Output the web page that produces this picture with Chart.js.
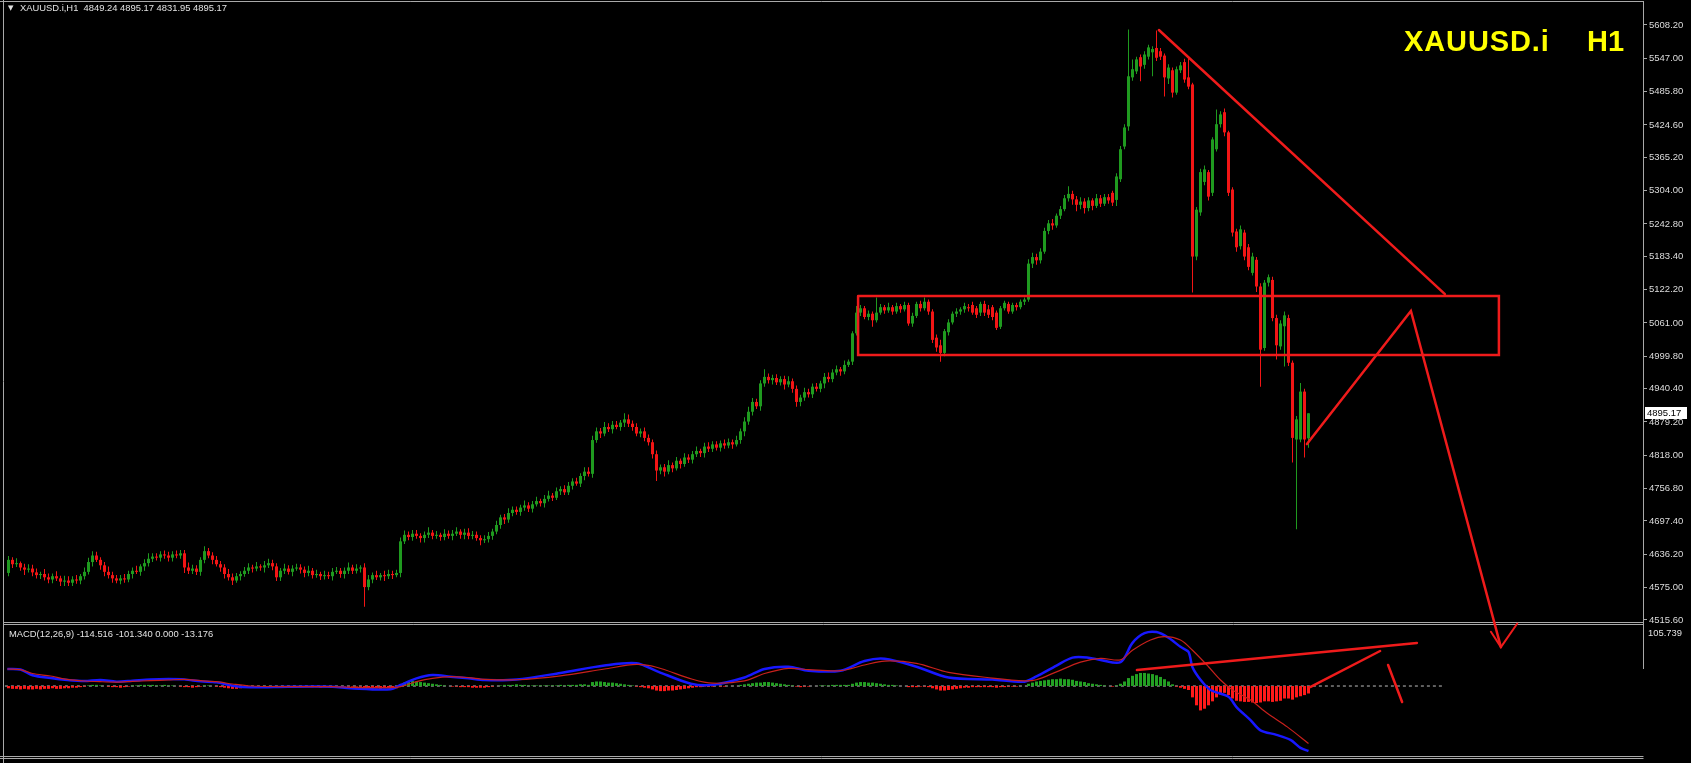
<!DOCTYPE html>
<html>
<head>
<meta charset="utf-8">
<title>XAUUSD.i H1</title>
<script src="https://cdn.jsdelivr.net/npm/chart.js@4.4.1/dist/chart.umd.min.js"></script>
<style>
  html, body { margin: 0; padding: 0; background: #000; overflow: hidden; }
  #wrap { position: relative; width: 1691px; height: 763px; background: #000; }
  canvas { position: absolute; left: 0; top: 0; width: 1691px; height: 763px; }
  #macdCanvas { z-index: 1; }
  #priceCanvas { z-index: 2; }
  .lbl { position: absolute; z-index: 3; font-family: "Liberation Sans", Arial, sans-serif; font-size: 9.4px; line-height: 10px; color: #e2e2e2; white-space: pre; }
  .big { position: absolute; z-index: 3; font-family: "Liberation Sans", Arial, sans-serif; font-weight: bold; font-size: 29px; line-height: 29px; color: #ffff00; white-space: pre; }
</style>
</head>
<body>
<div id="wrap">
  <canvas id="macdCanvas" width="1691" height="763"></canvas>
  <canvas id="priceCanvas" width="1691" height="763"></canvas>
  <div class="lbl" style="left:8px; top:3px; font-family:'DejaVu Sans'; font-size:7px;">▼</div>
  <div class="lbl" style="left:20px; top:3px;">XAUUSD.i,H1  4849.24 4895.17 4831.95 4895.17</div>
  <div class="big" style="left:1404px; top:27px; letter-spacing:0.9px;">XAUUSD.i</div>
  <div class="big" style="left:1587px; top:27px;">H1</div>
  <div class="lbl" style="left:9px; top:629px;">MACD(12,26,9) -114.516 -101.340 0.000 -13.176</div>
  <div class="lbl" style="left:1648px; top:628px;">105.739</div>
</div>
<script>
// hourly candles, index 0 = leftmost bar
const opens = [
  4602,4626,4618,4620,4612,4608,4610,4603,4598,4600,
  4594,4590,4596,4592,4586,4588,4584,4590,4588,4596,
  4604,4622,4634,4626,4616,4604,4598,4592,4588,4592,
  4590,4600,4606,4604,4614,4620,4628,4632,4630,4636,
  4634,4630,4636,4634,4638,4612,4606,4610,4604,4626,
  4642,4634,4626,4618,4612,4600,4594,4588,4596,4600,
  4606,4612,4610,4614,4612,4616,4620,4614,4594,4606,
  4610,4604,4610,4612,4608,4602,4606,4598,4600,4596,
  4598,4596,4604,4606,4600,4606,4612,4606,4610,4612,
  4576,4590,4598,4594,4598,4596,4600,4598,4602,4660,
  4672,4668,4674,4670,4666,4672,4676,4670,4672,4668,
  4674,4670,4674,4678,4672,4676,4670,4672,4666,4662,
  4664,4670,4678,4690,4704,4700,4712,4718,4714,4722,
  4726,4720,4728,4734,4730,4738,4744,4740,4752,4756,
  4750,4762,4770,4766,4780,4788,4784,4846,4862,4858,
  4870,4866,4874,4870,4878,4884,4876,4870,4858,4862,
  4850,4842,4820,4790,4796,4788,4800,4794,4808,4802,
  4814,4810,4820,4826,4822,4834,4830,4838,4832,4840,
  4836,4842,4838,4846,4862,4880,4898,4916,4908,4950,
  4962,4956,4960,4952,4958,4948,4954,4940,4916,4924,
  4934,4930,4944,4940,4950,4962,4958,4970,4976,4972,
  4984,4990,5042,5080,5088,5072,5078,5066,5080,5090,
  5084,5090,5082,5092,5086,5094,5060,5074,5096,5088,
  5100,5082,5034,5020,5006,5044,5062,5078,5082,5086,
  5090,5094,5088,5080,5096,5086,5090,5080,5054,5088,
  5096,5082,5094,5090,5100,5104,5170,5182,5176,5192,
  5230,5244,5240,5258,5270,5290,5298,5288,5278,5284,
  5272,5286,5276,5290,5280,5292,5300,5287,5325,5385,
  5422,5512,5523,5549,5535,5550,5558,5566,5560,5552,
  5510,5525,5484,5525,5540,5512,5499,5183,5264,5320,
  5338,5300,5380,5426,5448,5411,5306,5229,5202,5227,
  5200,5153,5177,5128,5015,5135,5140,5070,5018,5055,
  5070,4988,4847,4847,4935,4849.24
];
const highs = [
  4633,4631,4629,4623,4619,4618,4617,4610,4604,4609,
  4601,4601,4605,4597,4597,4596,4596,4598,4600,4612,
  4630,4642,4641,4631,4622,4614,4604,4598,4598,4600,
  4606,4612,4615,4618,4627,4638,4638,4638,4642,4643,
  4641,4642,4643,4644,4644,4621,4617,4616,4631,4651,
  4648,4640,4633,4624,4618,4609,4601,4602,4605,4613,
  4620,4617,4622,4618,4624,4628,4626,4620,4611,4619,
  4616,4616,4619,4618,4614,4615,4611,4608,4604,4606,
  4604,4611,4613,4611,4612,4621,4617,4618,4616,4620,
  4598,4603,4606,4602,4606,4608,4606,4608,4667,4680,
  4678,4681,4681,4675,4678,4686,4681,4679,4676,4682,
  4680,4681,4686,4682,4683,4684,4679,4678,4671,4671,
  4677,4683,4698,4709,4710,4721,4724,4724,4727,4735,
  4732,4734,4742,4738,4745,4753,4749,4759,4761,4763,
  4769,4776,4777,4785,4796,4796,4854,4869,4868,4879,
  4877,4881,4881,4883,4895,4893,4882,4877,4867,4869,
  4856,4847,4827,4801,4802,4809,4805,4815,4812,4822,
  4820,4826,4834,4830,4841,4842,4844,4844,4845,4847,
  4849,4847,4854,4867,4888,4907,4923,4922,4956,4976,
  4968,4966,4967,4963,4964,4963,4959,4946,4929,4942,
  4940,4950,4951,4955,4969,4970,4976,4983,4980,4992,
  4994,5046,5092,5094,5092,5084,5082,5108,5096,5094,
  5098,5094,5098,5096,5100,5098,5080,5100,5102,5108,
  5104,5086,5040,5030,5050,5068,5082,5088,5090,5098,
  5096,5100,5092,5100,5102,5094,5094,5084,5092,5102,
  5100,5098,5098,5104,5108,5178,5190,5188,5198,5236,
  5250,5252,5262,5276,5296,5312,5304,5294,5292,5290,
  5292,5290,5298,5296,5298,5298,5304,5336,5386,5426,
  5600,5545,5550,5554,5560,5572,5569,5598,5566,5556,
  5536,5530,5532,5540,5546,5550,5502,5274,5344,5350,
  5342,5402,5453,5450,5455,5414,5310,5234,5240,5232,
  5206,5190,5182,5134,5140,5150,5146,5076,5066,5082,
  5076,4992,4890,4951,4940,4895.17
];
const lows = [
  4596,4611,4613,4606,4598,4603,4596,4592,4591,4588,
  4583,4583,4587,4578,4578,4578,4578,4582,4581,4590,
  4599,4614,4622,4608,4596,4592,4584,4583,4581,4584,
  4585,4592,4600,4597,4606,4614,4622,4625,4623,4628,
  4623,4623,4629,4628,4602,4600,4600,4598,4597,4620,
  4629,4618,4614,4604,4592,4588,4580,4584,4588,4595,
  4600,4603,4605,4606,4603,4611,4607,4587,4587,4600,
  4599,4596,4606,4601,4594,4596,4592,4593,4589,4590,
  4591,4588,4600,4593,4592,4600,4600,4601,4603,4540,
  4570,4583,4589,4588,4587,4591,4591,4594,4594,4655,
  4662,4661,4665,4658,4658,4666,4664,4665,4661,4662,
  4665,4662,4670,4665,4664,4664,4664,4661,4653,4657,
  4658,4663,4673,4683,4692,4694,4706,4709,4707,4716,
  4714,4713,4724,4724,4722,4733,4734,4736,4745,4745,
  4745,4755,4762,4760,4772,4779,4777,4841,4850,4853,
  4861,4858,4866,4863,4870,4870,4863,4853,4851,4844,
  4836,4812,4771,4783,4779,4783,4787,4790,4794,4797,
  4804,4803,4815,4815,4814,4824,4824,4827,4825,4830,
  4831,4830,4834,4839,4853,4874,4891,4903,4900,4944,
  4950,4948,4947,4946,4939,4943,4933,4907,4908,4918,
  4924,4923,4935,4934,4941,4952,4952,4965,4964,4967,
  4980,4984,5038,5074,5068,5066,5054,5062,5076,5078,
  5080,5076,5078,5080,5082,5056,5054,5070,5082,5084,
  5076,5024,5008,4990,5000,5038,5058,5072,5076,5080,
  5082,5076,5070,5074,5074,5070,5066,5048,5050,5084,
  5078,5078,5084,5086,5094,5100,5162,5168,5170,5188,
  5224,5232,5236,5252,5266,5284,5278,5266,5270,5262,
  5266,5268,5272,5274,5276,5280,5276,5276,5320,5380,
  5414,5506,5518,5505,5528,5545,5514,5542,5544,5477,
  5500,5475,5480,5520,5502,5490,5117,5176,5258,5314,
  5286,5294,5376,5420,5404,5294,5220,5192,5196,5176,
  5158,5148,5118,4944,5010,5128,5064,4994,5012,4981,
  4982,4805,4682,4842,4814,4831.95
];
const closes = [
  4626,4618,4620,4612,4608,4610,4603,4598,4600,4594,
  4590,4596,4592,4586,4588,4584,4590,4588,4596,4604,
  4622,4634,4626,4616,4604,4598,4592,4588,4592,4590,
  4600,4606,4604,4614,4620,4628,4632,4630,4636,4634,
  4630,4636,4634,4638,4612,4606,4610,4604,4626,4642,
  4634,4626,4618,4612,4600,4594,4588,4596,4600,4606,
  4612,4610,4614,4612,4616,4620,4614,4594,4606,4610,
  4604,4610,4612,4608,4602,4606,4598,4600,4596,4598,
  4596,4604,4606,4600,4606,4612,4606,4610,4612,4576,
  4590,4598,4594,4598,4596,4600,4598,4602,4660,4672,
  4668,4674,4670,4666,4672,4676,4670,4672,4668,4674,
  4670,4674,4678,4672,4676,4670,4672,4666,4662,4664,
  4670,4678,4690,4704,4700,4712,4718,4714,4722,4726,
  4720,4728,4734,4730,4738,4744,4740,4752,4756,4750,
  4762,4770,4766,4780,4788,4784,4846,4862,4858,4870,
  4866,4874,4870,4878,4884,4876,4870,4858,4862,4850,
  4842,4820,4790,4796,4788,4800,4794,4808,4802,4814,
  4810,4820,4826,4822,4834,4830,4838,4832,4840,4836,
  4842,4838,4846,4862,4880,4898,4916,4908,4950,4962,
  4956,4960,4952,4958,4948,4954,4940,4916,4924,4934,
  4930,4944,4940,4950,4962,4958,4970,4976,4972,4984,
  4990,5042,5080,5088,5072,5078,5066,5080,5090,5084,
  5090,5082,5092,5086,5094,5060,5074,5096,5088,5100,
  5082,5030,5016,5006,5046,5062,5078,5082,5086,5092,
  5088,5080,5076,5096,5080,5076,5072,5052,5088,5098,
  5082,5094,5090,5100,5104,5170,5182,5176,5192,5230,
  5244,5240,5258,5270,5290,5298,5288,5278,5284,5272,
  5286,5276,5290,5280,5292,5286,5282,5330,5380,5420,
  5514,5527,5545,5532,5554,5567,5564,5548,5550,5512,
  5530,5484,5527,5534,5508,5495,5183,5269,5338,5343,
  5293,5398,5426,5444,5411,5300,5227,5200,5233,5183,
  5164,5183,5128,5012,5135,5145,5070,5020,5060,5075,
  4988,4850,4884,4935,4847,4895.17
];

const priceTicks = [5608.20, 5547.00, 5485.80, 5424.60, 5365.20, 5304.00, 5242.80, 5183.40,
  5122.20, 5061.00, 4999.80, 4940.40, 4879.20, 4818.00, 4756.80, 4697.40, 4636.20, 4575.00, 4515.60];

// MACD(12,26,9): histogram per bar, lines as read-off points
const hist = [
  -4,-5,-5,-6,-5,-6,-6,-5,-6,-5,
  -5,-4,-5,-5,-4,-4,-3,-3,-2,-1,
  1,2,2,1,0,-1,-2,-2,-3,-2,
  -1,1,1,2,2,2,2,1,1,2,
  1,1,0,-1,-2,-2,-3,-2,-1,1,
  1,0,-1,-2,-3,-4,-5,-5,-4,-3,
  -2,-2,-1,-1,-2,-1,-1,-2,-2,-1,
  -1,-2,-1,-1,-2,-2,-2,-2,-3,-2,
  -2,-2,-1,-1,-1,-1,-1,-1,-1,-3,
  -4,-4,-4,-5,-4,-4,-4,-4,3,6,
  8,9,8,7,6,5,4,3,2,1,
  0,-1,-1,-2,-2,-2,-3,-3,-3,-3,
  -2,-1,0,1,2,2,2,3,2,2,
  1,1,1,1,1,1,1,1,2,1,
  2,2,2,3,3,2,7,8,8,7,
  6,6,5,4,3,2,1,-1,-2,-3,
  -4,-6,-8,-9,-9,-8,-8,-7,-6,-5,
  -4,-3,-2,-2,-1,-1,-1,0,-1,-1,
  0,0,0,2,3,4,5,6,6,7,
  7,6,5,4,3,2,1,-1,-2,-1,
  -1,0,0,1,1,1,2,2,2,2,
  2,4,6,7,7,6,6,5,4,3,
  2,2,1,0,0,-2,-2,-2,-1,-1,
  -2,-4,-6,-8,-8,-7,-6,-5,-4,-3,
  -3,-2,-2,-2,-2,-2,-2,-3,-2,-2,
  -1,-1,-1,0,0,4,6,8,9,10,
  11,12,12,13,12,12,11,9,8,7,
  5,4,3,2,1,0,-1,1,4,8,
  14,18,21,23,23,22,21,19,16,12,
  8,3,-1,-3,-5,-7,-20,-34,-43,-40,
  -34,-27,-20,-15,-12,-16,-22,-26,-27,-28,
  -28,-29,-30,-29,-27,-27,-28,-27,-26,-22,
  -22,-24,-20,-18,-16,-13.176
];
const macdIdx = [-0.3,3,6,10.5,14.7,19,23,27,31,35.5,40,44,48,52,56,60.5,70,81,85.5,95.5,
  98,102,106,110.5,115,119,127,138,149,157,162.5,170.6,176,184,189,195,200,208,214,219,
  227,235,246,254,257,262,266,270,273,278,281,284,287,290,293,295,296,298,300.5,305,
  307,310.5,313,317,320.5,323,325];
const macdVal = [30,29,19,14,10.6,8.8,10.6,7.6,9.4,11.7,12.3,11.7,8.2,6.5,0.6,-2.3,-1.2,-1.2,-4,-5.9,
  1.8,13.5,19.4,16.4,13.5,10.6,11.5,23,36,40,25,4,2,15,30,34,27,27,44,48,
  34,15,11.5,7.7,17,36,50,50,46,42,76,93,95,85,69,60,33,11,-7,-19,
  -37,-60,-78,-86,-95,-109,-114.516];
const sigIdx = [-0.3,3,6,10.5,14.7,19,23,27,31,35.5,40,44,48,52,56,60.5,70,81,85.5,95.5,
  98,102,106,110.5,115,119,127,138,149,157,162,171,176,184,189,195,200,208,214,219,
  227,235,246,254,257,262,268,273,278,281,285.5,289,293,296,300,303,306,310.5,314.7,319.7,
  325];
const sigVal = [30,29,22,17.6,11.7,8.8,7.6,7,8.2,9.4,10.6,11.7,9.4,7.6,3.5,0,-1.2,-1.2,-2.3,-2.9,
  -1.2,7.6,13.5,16.4,14.7,11.7,11,18,30,38,33,12,5,9,22,31,29,27,37,44,
  40,24,14,9,11,25,42,48.8,46,63,81,87,81,63,34,10.6,-7,-24.7,-48,-72,
  -101.34];
const zeroIdx = [-0.9, 358.6];

// hand-drawn analysis objects (bar index, price / MACD value)
const boxIdx = [212.4, 372.6, 372.6, 212.4, 212.4];
const boxPrice = [5110.5, 5110.5, 5002.1, 5002.1, 5110.5];
const trendIdx = [287.6, 359.1];
const trendPrice = [5599, 5114];
const pathIdx = [324.6, 350.6, 373.1];
const pathPrice = [4838.6, 5082.9, 4465.8];
const headIdx = [370.6, 373.1, 377.2];
const headPrice = [4493.9, 4465.8, 4509.2];
const macdLineA = { idx: [282.1, 352.1], val: [28.2, 75.8] };
const macdLineB = { idx: [325.4, 342.9], val: [-1.8, 61.7] };
const macdLineC = { idx: [344.9, 348.4], val: [37, -28.2] };

const bull = '#1f9a1f';
const bear = '#f21515';
const drawRed = '#ef1b1b';
const xMin = -1.125, xMax = 408.625;
const pts = (xs, ys) => xs.map((x, i) => ({ x: x, y: ys[i] }));
const candleColors = closes.map((c, i) => (c >= opens[i] ? bull : bear));

function drawingLine(xs, ys, width) {
  return {
    type: 'line', data: pts(xs, ys), borderColor: drawRed, borderWidth: width || 2.5,
    pointRadius: 0, tension: 0, clip: false, order: 0,
    borderJoinStyle: 'miter', borderCapStyle: 'round'
  };
}

const panelPlugin = {
  id: 'panel',
  beforeDatasetsDraw(chart) {
    const ctx = chart.ctx, a = chart.chartArea;
    const line = (x1, y1, x2, y2) => { ctx.beginPath(); ctx.moveTo(x1, y1); ctx.lineTo(x2, y2); ctx.stroke(); };
    ctx.save();
    ctx.strokeStyle = '#a9a9a9';
    ctx.lineWidth = 1;
    line(0, 1.5, a.right + 0.5, 1.5);
    line(3.5, 0, 3.5, 763);
    line(a.right + 0.5, 1, a.right + 0.5, 669);
    line(3, 622.5, a.right + 0.5, 622.5);
    line(3, 624.5, a.right + 0.5, 624.5);
    line(0, 756.5, a.right + 0.5, 756.5);
    line(0, 758.5, a.right + 0.5, 758.5);
    ctx.restore();
  },
  afterDraw(chart) {
    const ctx = chart.ctx, a = chart.chartArea;
    const last = closes[closes.length - 1];
    const y = Math.round(chart.scales.y.getPixelForValue(last));
    ctx.save();
    ctx.fillStyle = '#ffffff';
    ctx.fillRect(a.right + 2, y - 6, 42, 12);
    ctx.fillStyle = '#000000';
    ctx.font = '9.5px "Liberation Sans", Arial, sans-serif';
    ctx.textBaseline = 'middle';
    ctx.fillText(last.toFixed(2), a.right + 4, y + 0.5);
    ctx.restore();
  }
};

new Chart(document.getElementById('priceCanvas'), {
  type: 'bar',
  data: {
    datasets: [
      drawingLine(boxIdx, boxPrice, 2.5),
      drawingLine(trendIdx, trendPrice, 2.5),
      drawingLine(pathIdx, pathPrice, 2.5),
      drawingLine(headIdx, headPrice, 2),
      {
        label: 'bodies',
        data: closes.map((c, i) => ({ x: i, y: [opens[i], c] })),
        backgroundColor: candleColors, barThickness: 3, grouped: false,
        minBarLength: 1, inflateAmount: 0, borderWidth: 0, order: 2
      },
      {
        label: 'wicks',
        data: highs.map((h, i) => ({ x: i, y: [lows[i], h] })),
        backgroundColor: candleColors, barThickness: 1, grouped: false,
        inflateAmount: 0, borderWidth: 0, order: 3
      }
    ]
  },
  options: {
    responsive: false,
    animation: false,
    devicePixelRatio: 1,
    layout: { padding: { left: 4, top: 2, right: 0, bottom: 141 } },
    plugins: { legend: { display: false }, tooltip: { enabled: false } },
    scales: {
      x: { type: 'linear', min: xMin, max: xMax, offset: false, display: false },
      y: {
        type: 'linear', position: 'right', min: 4511.9, max: 5650.4,
        border: { display: false },
        grid: { drawOnChartArea: false, drawTicks: true, tickLength: 4, color: '#a9a9a9' },
        ticks: {
          autoSkip: false, padding: 2, color: '#dcdcdc',
          font: { family: '"Liberation Sans", Arial, sans-serif', size: 9.5 },
          callback: v => Number(v).toFixed(2)
        },
        afterBuildTicks: s => { s.ticks = priceTicks.map(v => ({ value: v })); },
        afterFit: s => { s.width = 48; s.paddingTop = 0; s.paddingBottom = 0; }
      }
    }
  },
  plugins: [panelPlugin]
});

new Chart(document.getElementById('macdCanvas'), {
  type: 'bar',
  data: {
    datasets: [
      drawingLine(macdLineA.idx, macdLineA.val, 2.5),
      drawingLine(macdLineB.idx, macdLineB.val, 2.5),
      drawingLine(macdLineC.idx, macdLineC.val, 2.5),
      {
        type: 'line', label: 'signal', data: pts(sigIdx, sigVal), borderColor: '#c8201c',
        borderWidth: 1.2, pointRadius: 0, tension: 0.3, order: 1
      },
      {
        type: 'line', label: 'macd', data: pts(macdIdx, macdVal), borderColor: '#1818ff',
        borderWidth: 2.5, pointRadius: 0, tension: 0.3, order: 2
      },
      {
        label: 'histogram', data: hist.map((v, i) => ({ x: i, y: v })),
        backgroundColor: hist.map(v => (v >= 0 ? '#23a023' : '#ff1a1a')),
        barThickness: 3, grouped: false, inflateAmount: 0, borderWidth: 0, order: 3
      },
      {
        type: 'line', label: 'zero', data: zeroIdx.map(x => ({ x: x, y: 0 })), borderColor: '#bdbdbd',
        borderWidth: 1, borderDash: [3, 3], pointRadius: 0, order: 4
      }
    ]
  },
  options: {
    responsive: false,
    animation: false,
    devicePixelRatio: 1,
    layout: { padding: { left: 4, top: 626, right: 0, bottom: 7 } },
    plugins: { legend: { display: false }, tooltip: { enabled: false } },
    scales: {
      x: { type: 'linear', min: xMin, max: xMax, offset: false, display: false },
      y: {
        type: 'linear', position: 'right', min: -123.3, max: 105.739,
        border: { display: false }, grid: { display: false }, ticks: { display: false },
        afterFit: s => { s.width = 48; s.paddingTop = 0; s.paddingBottom = 0; }
      }
    }
  }
});
</script>
</body>
</html>
